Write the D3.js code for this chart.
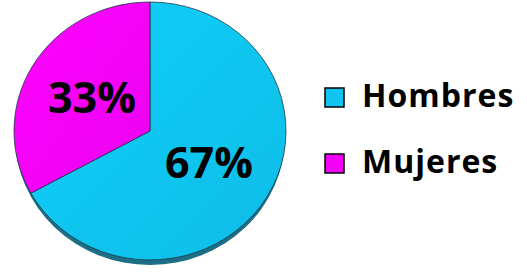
<!DOCTYPE html>
<html>
<head>
<meta charset="utf-8">
<script src="https://cdn.jsdelivr.net/npm/d3@7"></script>
<style>
  body { margin: 0; background: #fff; }
  text { font-family: "Open Sans", Lato, sans-serif; font-weight: bold; }
</style>
</head>
<body>
<script>
// chart data
var categories = ["Hombres", "Mujeres"];
var values = [67, 33];
var labels = ["67%", "33%"];
var colors = ["#0fc4ee", "#f402f8"];

var w = 527, h = 273;
var cx = 150, cy = 131, rx = 136, ry = 129; // pie is slightly squashed

var svg = d3.select("body").append("svg")
  .attr("width", w)
  .attr("height", h);

var defs = svg.append("defs");
colors.forEach(function(c, i){
  var g = defs.append("linearGradient")
    .attr("id", "grad" + i)
    .attr("x1", 0).attr("y1", 0).attr("x2", 1).attr("y2", 1);
  g.append("stop").attr("offset", "0%").attr("stop-color", d3.color(c).brighter(0.15));
  g.append("stop").attr("offset", "100%").attr("stop-color", d3.color(c).darker(0.1));
});

// 3d edge under the pie
svg.append("ellipse")
  .attr("cx", cx).attr("cy", cy + 5)
  .attr("rx", rx - 1).attr("ry", ry)
  .style("fill", "#1c6f86");

var pie = d3.pie().sort(null).value(function(d){ return d; });
var arc = d3.arc().innerRadius(0).outerRadius(ry);

var g = svg.append("g")
  .attr("transform", "translate(" + cx + "," + cy + ") scale(" + (rx / ry) + ",1)");

var arcs = pie(values);

g.selectAll(".slice")
  .data(arcs)
  .enter()
  .append("path")
  .attr("class", "slice")
  .attr("d", arc)
  .style("fill", function(d, i){ return "url(#grad" + i + ")"; })
  .style("stroke", "#1a3a48")
  .style("stroke-width", 0.8)
  .attr("vector-effect", "non-scaling-stroke");

// percent labels
var labelPos = [[209, 178], [92, 113]];
svg.selectAll(".pct")
  .data(labels)
  .enter()
  .append("text")
  .attr("class", "pct")
  .attr("text-anchor", "middle")
  .attr("x", function(d, i){ return labelPos[i][0]; })
  .attr("y", function(d, i){ return labelPos[i][1]; })
  .style("font-size", "43px")
  .style("fill", "#000")
  .text(function(d){ return d; });

// legend
var legend = svg.selectAll(".legend")
  .data(categories)
  .enter()
  .append("g")
  .attr("class", "legend")
  .attr("transform", function(d, i){ return "translate(325," + (88 + i * 66) + ")"; });

legend.append("rect")
  .attr("width", 19).attr("height", 19)
  .style("fill", function(d, i){ return colors[i]; })
  .style("stroke", "#000")
  .style("stroke-width", 1.5);

legend.append("text")
  .attr("x", 37)
  .attr("y", 19)
  .style("font-size", "32px")
  .style("letter-spacing", "1px")
  .style("fill", "#000")
  .text(function(d){ return d; });
</script>
</body>
</html>
